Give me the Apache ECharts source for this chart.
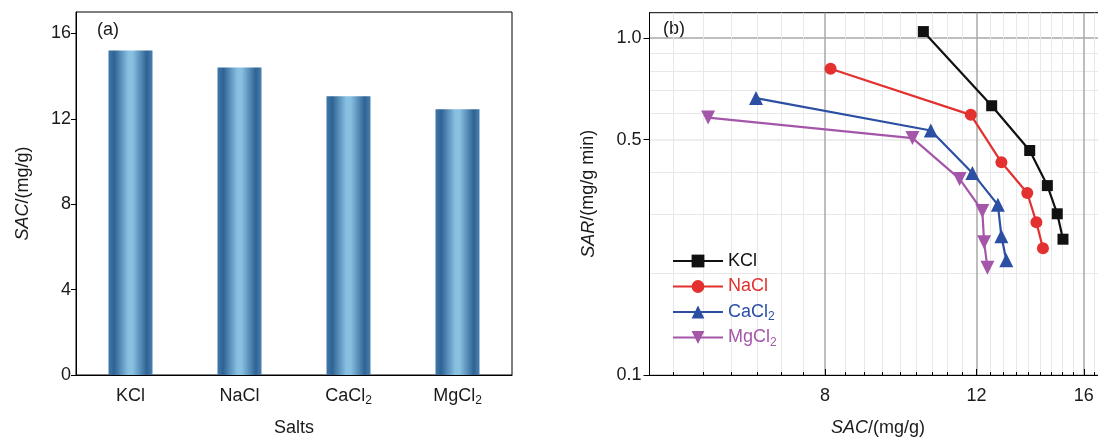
<!DOCTYPE html>
<html><head><meta charset="utf-8">
<script src="https://cdn.jsdelivr.net/npm/echarts@6/dist/echarts.min.js"></script>
<style>html,body{margin:0;padding:0;background:#fff}#c{width:1098px;height:439px}</style>
</head><body><div id="c"></div>
<script>
// ---------- data ----------
const salts = ['KCl', 'NaCl', 'CaCl2', 'MgCl2'];
const sacValues = [15.2, 14.4, 13.05, 12.45];
const barYTicks = [0, 4, 8, 12, 16];

const kclSAC = [10.41, 12.50, 13.84, 14.51, 14.90, 15.13];
const kclSAR = [1.046, 0.630, 0.464, 0.365, 0.301, 0.253];
const naclSAC = [8.12, 11.82, 12.83, 13.75, 14.09, 14.34];
const naclSAR = [0.811, 0.592, 0.428, 0.347, 0.284, 0.238];
const cacl2SAC = [6.65, 10.62, 11.87, 12.71, 12.83, 13.00];
const cacl2SAR = [0.664, 0.532, 0.398, 0.320, 0.258, 0.219];
const mgcl2SAC = [5.85, 10.11, 11.47, 12.19, 12.25, 12.36];
const mgcl2SAR = [0.581, 0.505, 0.382, 0.307, 0.248, 0.208];

const sacTicks = [8, 12, 16];
const sarTicks = [0.1, 0.5, 1.0];
const sarMinorTicks = [0.2, 0.3, 0.4, 0.6, 0.7, 0.8, 0.9];
const sacMinorTicks = [];
for (let k = 1; k < 30; k++) { const v = 4 + k * 4 / 9; if (v > 5 && v < 17 && k % 9 !== 0) sacMinorTicks.push(+v.toFixed(4)); }

// ---------- styles ----------
const FONT = 'Liberation Sans, Arial, sans-serif';
const base = { fontFamily: FONT, fontSize: 18, color: '#1a1a1a' };
const subRich = { s: { fontFamily: FONT, fontSize: 12, lineHeight: 12, verticalAlign: 'bottom', color: '#1a1a1a' } };
const subFmt = v => String(v).replace(/(\d+)$/, '{s|$1}');
const colors = { KCl: '#111111', NaCl: '#e2312e', CaCl2: '#2c4fa3', MgCl2: '#a457a9' };

const barGradient = new echarts.graphic.LinearGradient(0, 0, 1, 0, [
  { offset: 0, color: '#3f78aa' }, { offset: 0.13, color: '#2e6394' },
  { offset: 0.45, color: '#88c0e2' }, { offset: 0.55, color: '#88c0e2' },
  { offset: 0.87, color: '#2e6394' }, { offset: 1, color: '#4a80ae' }
]);

const names = ['KCl', 'NaCl', 'CaCl2', 'MgCl2'];
const sacSets = [kclSAC, naclSAC, cacl2SAC, mgcl2SAC];
const sarSets = [kclSAR, naclSAR, cacl2SAR, mgcl2SAR];
const symbols = [['rect', 11, 0], ['circle', 12, 0], ['triangle', 14, 0], ['triangle', 14, 180]];

const lineSeries = names.map((n, i) => ({
  name: n, type: 'line', xAxisIndex: 1, yAxisIndex: 1,
  data: sacSets[i].map((x, j) => [x, sarSets[i][j]]),
  symbol: symbols[i][0], symbolSize: symbols[i][1], symbolRotate: symbols[i][2],
  lineStyle: { color: colors[n], width: 2.2 },
  itemStyle: { color: colors[n] },
  emphasis: { disabled: true }, z: 5
}));

const chart = echarts.init(document.getElementById('c'), null, { renderer: 'canvas' });
chart.setOption({
  animation: false,
  backgroundColor: '#fff',
  textStyle: { fontFamily: FONT },
  grid: [
    { left: 76, top: 12, width: 436, height: 363, show: true, borderColor: '#000', borderWidth: 1, backgroundColor: 'transparent', outerBoundsMode: 'none', containLabel: false },
    { left: 649.5, top: 12.7, width: 457, height: 362.3, show: true, borderColor: '#000', borderWidth: 1, backgroundColor: 'transparent', outerBoundsMode: 'none', containLabel: false }
  ],
  xAxis: [
    { type: 'category', gridIndex: 0, data: salts,
      axisLine: { lineStyle: { color: '#000', width: 1 } }, axisTick: { show: false },
      axisLabel: Object.assign({}, base, { margin: 10, formatter: subFmt, rich: subRich, lineHeight: 22 }),
      name: 'Salts', nameLocation: 'middle', nameGap: 44, nameTextStyle: base },
    { type: 'log', logBase: 10, gridIndex: 1, min: 5, max: 17, position: 'bottom',
      axisLine: { onZero: false, lineStyle: { color: '#000', width: 1 } },
      axisTick: { inside: true, length: 6, customValues: sacTicks, lineStyle: { color: '#000' } },
      axisLabel: Object.assign({}, base, { margin: 12, customValues: sacTicks, formatter: v => String(Math.round(v)) }),
      splitLine: { show: true, lineStyle: { color: '#a8a8a8', width: 1.5 } },
      minorTick: { show: false }, minorSplitLine: { show: false },
      name: '{i|SAC}/(mg/g)', nameLocation: 'middle', nameGap: 44,
      nameTextStyle: Object.assign({}, base, { rich: { i: Object.assign({}, base, { fontStyle: 'italic' }) } }) },
    { type: 'log', logBase: 10, gridIndex: 1, min: 5, max: 17, position: 'bottom',
      axisLine: { show: false },
      axisTick: { inside: true, length: 3, customValues: sacMinorTicks, lineStyle: { color: '#000' } },
      axisLabel: { show: false },
      splitLine: { show: true, lineStyle: { color: '#e8e8e8', width: 1 } },
      minorTick: { show: false }, minorSplitLine: { show: false } }
  ],
  yAxis: [
    { type: 'value', gridIndex: 0, min: 0, max: 17, interval: 4,
      axisLine: { show: true, lineStyle: { color: '#000', width: 1 } },
      axisTick: { show: true, inside: false, length: 5, customValues: barYTicks, lineStyle: { color: '#000' } },
      axisLabel: Object.assign({}, base, { margin: 5, customValues: barYTicks }),
      splitLine: { show: false },
      name: '{i|SAC}/(mg/g)', nameLocation: 'middle', nameGap: 44, nameRotate: 90,
      nameTextStyle: Object.assign({}, base, { rich: { i: Object.assign({}, base, { fontStyle: 'italic' }) } }) },
    { type: 'log', logBase: 10, gridIndex: 1, min: 0.1, max: 1.19,
      axisLine: { show: true, onZero: false, lineStyle: { color: '#000', width: 1 } },
      axisTick: { show: true, inside: false, length: 6, customValues: sarTicks, lineStyle: { color: '#000' } },
      axisLabel: Object.assign({}, base, { margin: 8, customValues: sarTicks, formatter: v => Number(v).toFixed(1) }),
      splitLine: { show: true, lineStyle: { color: ['#e8e8e8', '#e8e8e8', '#a8a8a8'], width: 1.5 } },
      minorTick: { show: false }, minorSplitLine: { show: false },
      name: '{i|SAR}/(mg/g min)', nameLocation: 'middle', nameGap: 52, nameRotate: 90,
      nameTextStyle: Object.assign({}, base, { rich: { i: Object.assign({}, base, { fontStyle: 'italic' }) } }) },
    { type: 'log', logBase: 10, gridIndex: 1, min: 0.1, max: 1.19,
      axisLine: { show: false },
      axisTick: { show: true, inside: false, length: 3, customValues: sarMinorTicks, lineStyle: { color: '#000' } },
      axisLabel: { show: false },
      splitLine: { show: true, lineStyle: { color: '#e8e8e8', width: 1 } },
      minorTick: { show: false }, minorSplitLine: { show: false } }
  ],
  legend: {
    orient: 'vertical', left: 667, top: 245, itemWidth: 50, itemHeight: 16, itemGap: 3.5,
    textStyle: Object.assign({}, base, { lineHeight: 22, rich: subRich }),
    formatter: subFmt,
    data: names.map(n => ({ name: n, textStyle: { color: colors[n], rich: { s: Object.assign({}, subRich.s, { color: colors[n] }) } } }))
  },
  graphic: [
    { type: 'text', left: 97, top: 21, style: Object.assign({ text: '(a)', fill: '#1a1a1a', font: '18px ' + FONT }) },
    { type: 'text', left: 663, top: 20, style: Object.assign({ text: '(b)', fill: '#1a1a1a', font: '18px ' + FONT }) }
  ],
  series: [
    { type: 'bar', xAxisIndex: 0, yAxisIndex: 0, data: sacValues, barWidth: 44,
      itemStyle: { color: barGradient }, emphasis: { disabled: true } }
  ].concat(lineSeries)
});
</script></body></html>
